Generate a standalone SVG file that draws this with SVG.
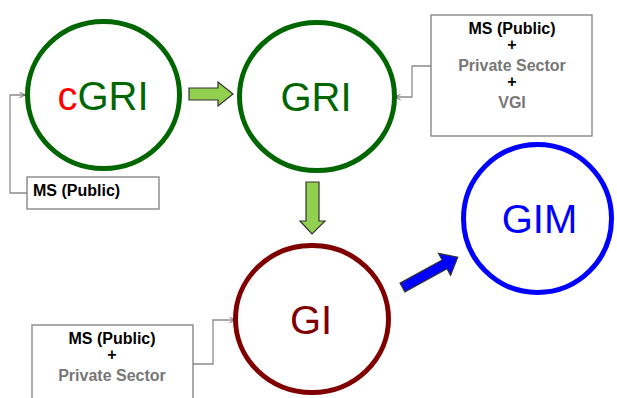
<svg xmlns="http://www.w3.org/2000/svg" width="617" height="398" viewBox="0 0 617 398">
  <defs>
    <style>
      .ring { fill: #ffffff; stroke-width: 5; }
      .big { font-family: "Liberation Sans", Arial, sans-serif; font-size: 40px; text-anchor: middle; }
      .box { fill: #ffffff; stroke: #7f7f7f; stroke-width: 1.3; }
      .lbl { font-family: "Liberation Sans", Arial, sans-serif; font-size: 16px; font-weight: bold; text-anchor: middle; fill: #000000; }
      .grey { fill: #777777; }
      .link { fill: none; stroke: #8c8c8c; stroke-width: 1.3; }
      .fat { stroke: #333333; stroke-width: 1.2; stroke-linejoin: miter; }
    </style>
    <marker id="open" viewBox="0 0 10 10" refX="9" refY="5" markerWidth="7" markerHeight="7" orient="auto" markerUnits="userSpaceOnUse">
      <path d="M1,1 L9,5 L1,9" fill="none" stroke="#555555" stroke-width="1.2"/>
    </marker>
  </defs>

  <!-- source boxes and their feeder lines -->
  <g id="connectors">
    <polyline class="link" points="27,193 10,193 10,95 25,95" marker-end="url(#open)"/>
    <polyline class="link" points="431,66 412,66 412,97 395,97" marker-end="url(#open)"/>
    <polyline class="link" points="193,364 213,364 213,320 235,320" marker-end="url(#open)"/>
    <!-- block arrows between stages -->
    <polygon class="fat" fill="#92d050" points="189,88 218,88 218,82 233,94 218,106 218,100 189,100"/>
    <polygon class="fat" fill="#92d050" points="306,182 319,182 319,221 325,221 312,234 300,221 306,221"/>
    <polygon class="fat" fill="#0000ff" transform="translate(402.5,287.5) rotate(-28.8)" points="0,-5 48,-5 48,-12.5 63,0 48,12.5 48,5 0,5"/>
  </g>

  <g id="cgri">
    <ellipse class="ring" cx="103.5" cy="95" rx="76" ry="73.5" stroke="#006600"/>
    <text class="big" x="103" y="110"><tspan fill="#ff0000">c</tspan><tspan fill="#006600">GRI</tspan></text>
  </g>

  <g id="gri">
    <ellipse class="ring" cx="317" cy="96.5" rx="77.5" ry="74" stroke="#006600"/>
    <text class="big" x="316" y="111" fill="#006600">GRI</text>
  </g>

  <g id="gi">
    <ellipse class="ring" cx="312" cy="319" rx="76.5" ry="73.5" stroke="#800000"/>
    <text class="big" x="311" y="334" fill="#800000">GI</text>
  </g>

  <g id="gim">
    <ellipse class="ring" cx="537.5" cy="218.5" rx="74" ry="74" stroke="#0000ff" stroke-width="7"/>
    <text class="big" x="539.5" y="233" fill="#0000ff">GIM</text>
  </g>

  <g id="src-public">
    <rect class="box" x="27" y="177" width="132" height="32"/>
    <text class="lbl" x="33" y="196" text-anchor="start" style="text-anchor:start">MS (Public)</text>
  </g>

  <g id="src-mixed">
    <rect class="box" x="431" y="15" width="161" height="121"/>
    <text class="lbl" x="512" y="34">MS (Public)</text>
    <text class="lbl" x="512" y="50">+</text>
    <text class="lbl grey" x="512" y="71">Private Sector</text>
    <text class="lbl" x="512" y="87">+</text>
    <text class="lbl grey" x="512" y="108">VGI</text>
  </g>

  <g id="src-pp">
    <rect class="box" x="32" y="325" width="161" height="80"/>
    <text class="lbl" x="112" y="344">MS (Public)</text>
    <text class="lbl" x="112" y="360">+</text>
    <text class="lbl grey" x="112" y="381">Private Sector</text>
  </g>
</svg>
